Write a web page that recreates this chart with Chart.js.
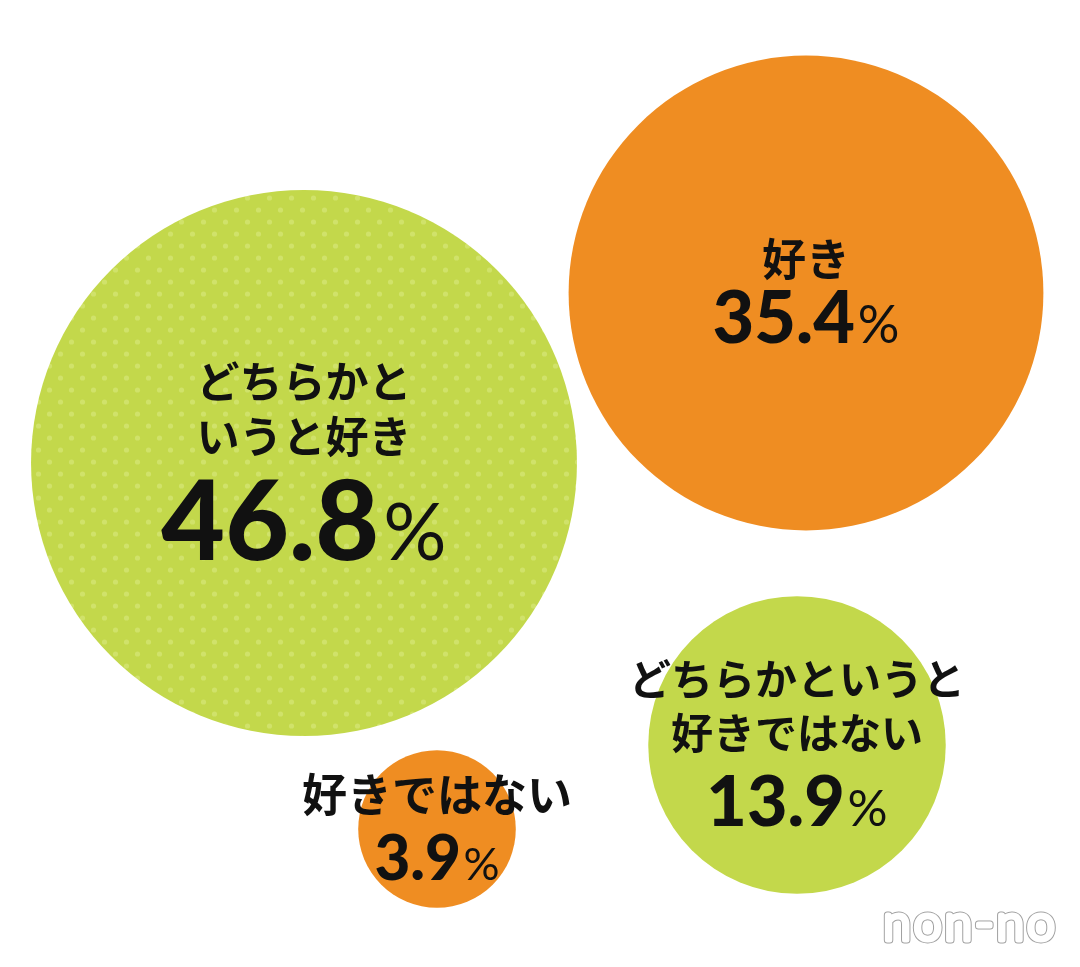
<!DOCTYPE html>
<html>
<head>
<meta charset="utf-8">
<script src="https://cdn.jsdelivr.net/npm/chart.js@4"></script>
<style>
  body { margin: 0; background: #fff; }
  canvas { display: block; }
</style>
</head>
<body>
<canvas id="bubbles" width="1080" height="967"></canvas>
<script>
// answers and their share (%)
var labels = ["どちらかと\nいうと好き", "好き", "どちらかというと\n好きではない", "好きではない"]
var values = [46.8, 35.4, 13.9, 3.9]
var colorNames = ["green", "orange", "green", "orange"]

// where each bubble sits on the page (packed layout)
var centerX = [304, 806, 797, 437]
var centerY = [463, 293, 745, 829]

// styles
var GREEN = "#c3d84b"
var ORANGE = "#ef8d22"
var labelSize = [43, 44, 42, 45]
var numberSize = [110, 72, 70, 62]
var labelGap = [24, 12, 24, 20]
var radiusScale = 39.9   // px per sqrt(%)

// dotted fill for the biggest bubble
function dotPattern(){
    var c = document.createElement("canvas")
    c.width = 22
    c.height = 24
    var g = c.getContext("2d")
    g.fillStyle = GREEN
    g.fillRect(0, 0, 22, 24)
    g.fillStyle = "#d0e26a"
    g.beginPath(); g.arc(5.5, 6, 2.6, 0, Math.PI*2); g.fill()
    g.beginPath(); g.arc(16.5, 18, 2.6, 0, Math.PI*2); g.fill()
    return g.createPattern(c, "repeat")
}

var fills = []
for(var i=0;i<values.length;i++){
    if(i==0) fills.push(dotPattern())
    else fills.push(colorNames[i]=="green" ? GREEN : ORANGE)
}

var points = []
for(var i=0;i<values.length;i++){
    points.push({x: centerX[i], y: centerY[i], r: radiusScale*Math.sqrt(values[i])})
}

var JP = '"Noto Sans CJK JP", "Noto Sans", sans-serif'
var NUM = 'Lato, "Noto Sans", sans-serif'

var labelPlugin = {
    id: "bubbleLabels",
    afterDatasetsDraw: function(chart){
        var ctx = chart.ctx
        var meta = chart.getDatasetMeta(0)
        ctx.save()
        ctx.fillStyle = "#111"
        ctx.textAlign = "center"
        for(var i=0;i<meta.data.length;i++){
            var el = meta.data[i]
            var lines = labels[i].split("\n")
            var f = labelSize[i], n = numberSize[i]
            var lh = f*1.28
            var cap = n*0.72
            var h = lines.length*lh - (lh - f*0.92) + labelGap[i] + cap
            var top = el.y - 2 - h/2
            ctx.font = "700 " + f + "px " + JP
            ctx.textBaseline = "middle"
            for(var j=0;j<lines.length;j++){
                ctx.fillText(lines[j], el.x, top + f*0.46 + j*lh)
            }
            var base = top + h
            // number + lighter percent sign
            var numText = values[i].toFixed(1)
            ctx.textBaseline = "alphabetic"
            ctx.font = "900 " + n + "px " + NUM
            var w1 = ctx.measureText(numText).width
            ctx.font = "400 " + Math.round(n*0.72) + "px " + NUM
            var w2 = ctx.measureText("%").width
            var gap = n*0.04
            var x0 = el.x - (w1 + gap + w2)/2
            ctx.textAlign = "left"
            ctx.font = "900 " + n + "px " + NUM
            ctx.fillText(numText, x0, base)
            ctx.font = "400 " + Math.round(n*0.72) + "px " + NUM
            ctx.fillText("%", x0 + w1 + gap, base)
            ctx.textAlign = "center"
        }
        // watermark
        ctx.font = "300 50px Lato, sans-serif"
        ctx.letterSpacing = "3px"
        ctx.textAlign = "right"
        ctx.textBaseline = "alphabetic"
        ctx.lineJoin = "round"
        ctx.strokeStyle = "#a0a0a0"
        ctx.lineWidth = 7
        ctx.strokeText("non-no", 1058, 940)
        ctx.strokeStyle = "#ffffff"
        ctx.lineWidth = 5
        ctx.strokeText("non-no", 1058, 940)
        ctx.restore()
    }
}

new Chart("bubbles", {
    type: "bubble",
    data: {
        datasets: [{
            data: points,
            backgroundColor: fills,
            borderWidth: 0,
            hoverBorderWidth: 0,
            clip: false
        }]
    },
    options: {
        responsive: false,
        animation: false,
        events: [],
        layout: {padding: 0, autoPadding: false},
        plugins: {legend: {display: false}, tooltip: {enabled: false}},
        scales: {
            x: {type: "linear", min: 0, max: 1080, display: false},
            y: {type: "linear", min: 0, max: 967, reverse: true, display: false}
        }
    },
    plugins: [labelPlugin]
});
</script>
</body>
</html>
